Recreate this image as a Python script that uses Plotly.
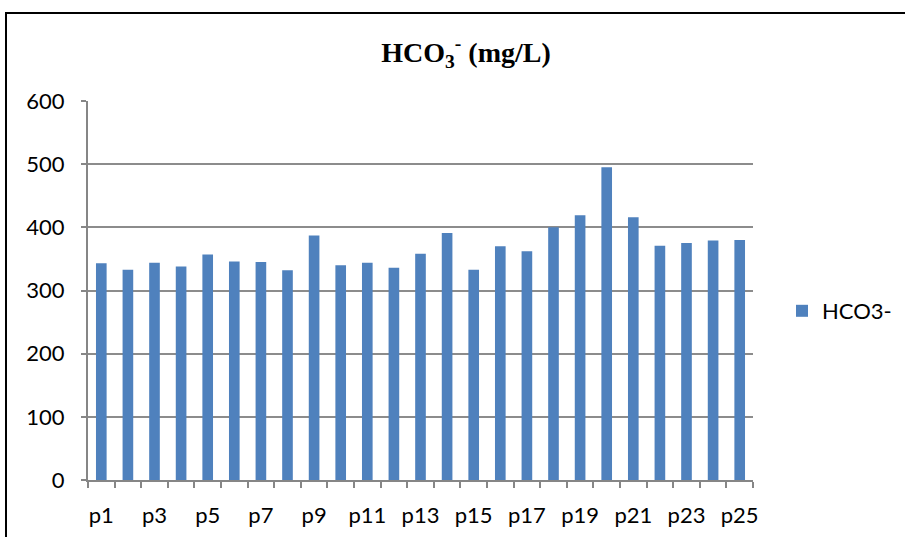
import plotly.graph_objects as go

# Sampling points and bicarbonate concentrations (mg/L)
points = [f"p{i}" for i in range(1, 26)]
hco3 = [343, 333, 344, 338, 357, 346, 345, 332, 387, 340,
        344, 336, 358, 391, 333, 370, 362, 400, 419, 495,
        416, 371, 375, 379, 380]
series_name = "HCO3-"
y_ticks = [0, 100, 200, 300, 400, 500, 600]

# Label every other sampling point on the category axis
x_labels = [p if i % 2 == 0 else "" for i, p in enumerate(points)]

W, H = 905, 537
L, R, T, B = 88, 152, 101, 57
pw, ph = W - L - R, H - T - B

fig = go.Figure(go.Bar(
    x=points, y=hco3, name=series_name,
    marker=dict(color="#4F81BD", line=dict(width=0)),
    showlegend=True,
))

axis_font = dict(family="Lato, 'Open Sans', sans-serif", size=22, color="#000000")

fig.update_layout(
    width=W, height=H,
    margin=dict(l=L, r=R, t=T, b=B, autoexpand=False),
    paper_bgcolor="white", plot_bgcolor="white",
    bargap=0.6,
    title=dict(
        text="<b>HCO<sub>3</sub><sup>-</sup> (mg/L)</b>",
        font=dict(family="'Liberation Serif', 'Times New Roman', serif", size=28, color="#000000"),
        x=466 / W, xanchor="center", xref="container",
        y=1 - 52 / H, yanchor="middle", yref="container",
    ),
    xaxis=dict(
        type="category",
        tickvals=points, ticktext=x_labels,
        tickangle=0,
        tickson="boundaries",
        ticks="outside", ticklen=6, tickcolor="#868686", tickwidth=1.5,
        showline=True, linecolor="#868686", linewidth=2,
        showgrid=False,
        tickfont=axis_font,
        ticklabelstandoff=15,
    ),
    yaxis=dict(
        range=[0, 600], tickvals=y_ticks,
        ticks="outside", ticklen=5, tickcolor="#868686", tickwidth=1.5,
        showline=True, linecolor="#868686", linewidth=2,
        showgrid=True, gridcolor="#8C8C8C", gridwidth=2,
        zeroline=False,
        tickfont=axis_font,
        ticklabelstandoff=12,
    ),
    legend=dict(
        x=(782 - L) / pw, xanchor="left",
        y=(H - B - 311) / ph, yanchor="middle",
        font=axis_font,
        bgcolor="rgba(0,0,0,0)",
        itemwidth=30,
    ),
    shapes=[dict(
        type="rect", xref="paper", yref="paper",
        x0=(6 - L) / pw, x1=(915 - L) / pw,
        y0=(H - B - 550) / ph, y1=(H - B - 13) / ph,
        line=dict(color="#000000", width=2), fillcolor="rgba(0,0,0,0)",
        layer="below",
    )],
)

fig.write_html("out.html")
